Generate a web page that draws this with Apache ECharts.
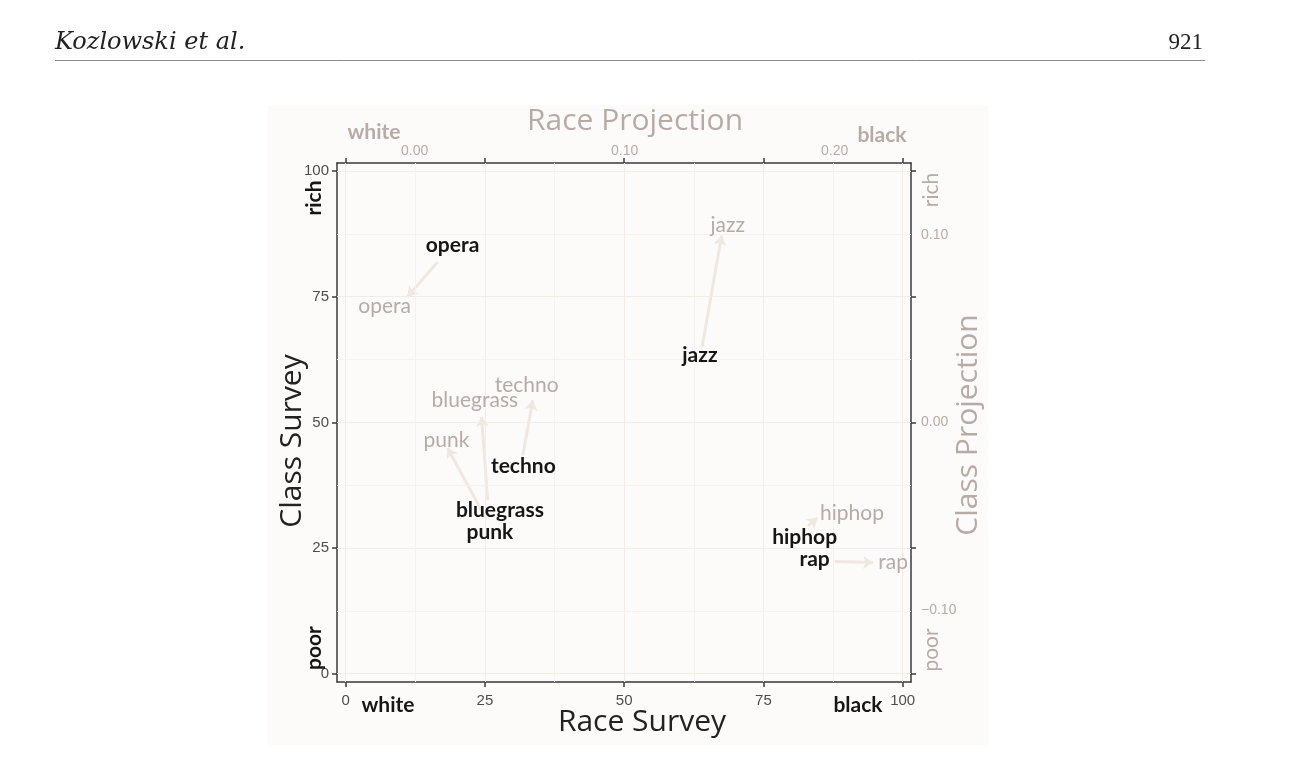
<!DOCTYPE html>
<html><head><meta charset="utf-8">
<script src="https://cdn.jsdelivr.net/npm/echarts@6/dist/echarts.min.js"></script>
<style>html,body{margin:0;padding:0;background:#fff}#c{width:1300px;height:770px}</style>
</head><body><div id="c"></div>
<script>
// ---------------- data ----------------
const genres = ['opera', 'jazz', 'techno', 'bluegrass', 'punk', 'hiphop', 'rap'];
// survey positions (Race Survey, Class Survey)
const surveyX = [19.2, 63.6, 31.9, 27.7, 25.9, 82.4, 84.2];
const surveyY = [85.2, 63.4, 41.2, 32.6, 28.2, 27.2, 22.7];
// projection positions, read on the survey axes
const projX = [7.0, 68.6, 32.5, 23.2, 18.1, 90.9, 98.3];
const projY = [73.1, 89.2, 57.4, 54.4, 46.5, 32.0, 22.1];
// arrows from survey to projection (start / end, survey axes)
const arrowX0 = [16.5, 64.0, 31.8, 25.5, 25.3, 83.0, 87.8];
const arrowY0 = [81.9, 65.0, 43.4, 34.6, 30.6, 29.4, 22.3];
const arrowX1 = [11.1, 67.5, 33.6, 24.4, 18.3, 84.7, 94.7];
const arrowY1 = [75.0, 87.2, 54.4, 51.1, 44.9, 31.0, 22.1];
// tick labels
const surveyTicks = [0, 25, 50, 75, 100];
const majorGrid = [0, 25, 50, 75, 100];
const minorGrid = [12.5, 37.5, 62.5, 87.5];
const raceProjTicks = [0, 0.1, 0.2];
const classProjTicks = [-0.1, 0, 0.1];

// ---------------- axis geometry ----------------
const xMin = -1.55, xMax = 101.5, yMin = -1.65, yMax = 101.6;
// projection scale: survey = origin + slope * projection
const raceOrigin = 12.4, raceSlope = 377;
const classOrigin = 50, classSlope = 373;
const toRace = s => (s - raceOrigin) / raceSlope;
const toClass = s => (s - classOrigin) / classSlope;

const dark = '#3a3a3a', greyTxt = '#b7aba7', tickTxt = '#4d4d4d', black = '#161616';
const fmtProj = v => (Math.abs(v) < 1e-9 ? '0.00' : v.toFixed(2)).replace('-', '\u2212');

const axisLine = {show: true, onZero: false, lineStyle: {color: dark, width: 1.5}};
const axisTickBase = {show: true, length: 5, lineStyle: {color: dark, width: 1.5}};

const chart = echarts.init(document.getElementById('c'), null, {renderer: 'canvas'});

function txt(text, x, y, opt) {
  return Object.assign({
    type: 'text', x: x, y: y, z: 10,
    style: Object.assign({
      text: text, x: 0, y: 0, align: 'center', verticalAlign: 'middle',
      textAlign: 'center', textVerticalAlign: 'middle'
    }, opt.style)
  }, opt.el || {});
}
const R = Math.PI / 2;

function textSeries(name, xs, ys, fill, font, z) {
  return {
    type: 'custom', name: name, z: z, silent: true,
    encode: {x: 0, y: 1},
    data: genres.map((g, i) => [xs[i], ys[i]]),
    renderItem: function (params, api) {
      const p = api.coord([api.value(0), api.value(1)]);
      return {
        type: 'text', x: p[0], y: p[1], z2: 10,
        style: {text: genres[params.dataIndex], fill: fill, font: font,
          align: 'center', verticalAlign: 'middle', textAlign: 'center', textVerticalAlign: 'middle'}
      };
    }
  };
}

const option = {
  animation: false,
  grid: {left: 337, right: 389, top: 163, bottom: 88},
  xAxis: [
    {
      type: 'value', position: 'bottom', min: xMin, max: xMax,
      axisLine: axisLine,
      axisTick: Object.assign({customValues: surveyTicks}, axisTickBase),
      axisLabel: {customValues: surveyTicks, margin: 11, color: tickTxt, fontSize: 15, fontFamily: 'Liberation Sans'},
      splitLine: {show: false}
    },
    {
      type: 'value', position: 'top', min: toRace(xMin), max: toRace(xMax),
      axisLine: axisLine,
      axisTick: Object.assign({customValues: surveyTicks.map(toRace)}, axisTickBase),
      axisLabel: {customValues: raceProjTicks, formatter: fmtProj, margin: 5, color: greyTxt, fontSize: 14, fontFamily: 'Liberation Sans'},
      splitLine: {show: false}
    }
  ],
  yAxis: [
    {
      type: 'value', position: 'left', min: yMin, max: yMax,
      axisLine: axisLine,
      axisTick: Object.assign({customValues: surveyTicks}, axisTickBase),
      axisLabel: {customValues: surveyTicks, margin: 8, color: tickTxt, fontSize: 15, fontFamily: 'Liberation Sans'},
      splitLine: {show: false}
    },
    {
      type: 'value', position: 'right', min: toClass(yMin), max: toClass(yMax),
      axisLine: axisLine,
      axisTick: Object.assign({customValues: surveyTicks.map(toClass)}, axisTickBase),
      axisLabel: {customValues: classProjTicks, formatter: fmtProj, margin: 10, color: greyTxt, fontSize: 14, fontFamily: 'Liberation Sans'},
      splitLine: {show: false}
    }
  ],
  series: [
    {
      type: 'scatter', name: 'grid', data: [], z: 1, silent: true,
      markLine: {
        silent: true, symbol: ['none', 'none'], label: {show: false}, animation: false,
        lineStyle: {type: 'solid', width: 1, color: '#f3ebe6'},
        data: []
          .concat(majorGrid.map(v => ({xAxis: v, lineStyle: {color: '#f3ebe6', type: 'solid', width: 1}})))
          .concat(majorGrid.map(v => ({yAxis: v, lineStyle: {color: '#f3ebe6', type: 'solid', width: 1}})))
          .concat(minorGrid.map(v => ({xAxis: v, lineStyle: {color: '#f7f1ed', type: 'solid', width: 1}})))
          .concat(minorGrid.map(v => ({yAxis: v, lineStyle: {color: '#f7f1ed', type: 'solid', width: 1}})))
      }
    },
    {
      type: 'lines', name: 'arrows', coordinateSystem: 'cartesian2d', z: 2, silent: true,
      symbol: ['none', 'arrow'], symbolSize: 10,
      lineStyle: {color: '#efe8e1', width: 3, opacity: 1},
      data: genres.map((g, i) => ({name: g, coords: [[arrowX0[i], arrowY0[i]], [arrowX1[i], arrowY1[i]]]}))
    },
    textSeries('projection', projX, projY, greyTxt, '21px Lato', 8),
    textSeries('survey', surveyX, surveyY, black, 'bold 21px Lato', 9)
  ],
  graphic: [
    {type: 'rect', z: -10, shape: {x: 268, y: 105, width: 720, height: 640}, style: {fill: '#fdfbfa'}},
    {type: 'line', z: 10, shape: {x1: 55, y1: 60.5, x2: 1205, y2: 60.5}, style: {stroke: '#8a8a8a', lineWidth: 1}},
    txt('Kozlowski et al.', 55, 43, {style: {align: 'left', textAlign: 'left', font: 'italic 24px "DejaVu Serif"', fill: '#222'}}),
    txt('921', 1203, 43, {style: {align: 'right', textAlign: 'right', font: '23px "Liberation Serif"', fill: '#222'}}),
    // axis titles
    txt('Race Survey', 642, 722, {style: {font: '30px "Open Sans"', fill: '#222'}}),
    txt('Race Projection', 635, 121, {style: {font: '30px "Open Sans"', fill: greyTxt}}),
    txt('Class Survey', 292, 441, {el: {rotation: R}, style: {font: '30px "Open Sans"', fill: '#222'}}),
    txt('Class Projection', 968, 425, {el: {rotation: R}, style: {font: '30px "Open Sans"', fill: greyTxt}}),
    // pole annotations
    txt('white', 388, 705, {style: {font: 'bold 21px Lato', fill: black}}),
    txt('black', 858, 705, {style: {font: 'bold 21px Lato', fill: black}}),
    txt('white', 374, 132, {style: {font: 'bold 21px Lato', fill: greyTxt}}),
    txt('black', 882, 135, {style: {font: 'bold 21px Lato', fill: greyTxt}}),
    txt('rich', 314, 198, {el: {rotation: R}, style: {font: 'bold 21px Lato', fill: black}}),
    txt('poor', 314, 648, {el: {rotation: R}, style: {font: 'bold 21px Lato', fill: black}}),
    txt('rich', 931, 190, {el: {rotation: R}, style: {font: '21px Lato', fill: greyTxt}}),
    txt('poor', 931, 650, {el: {rotation: R}, style: {font: '21px Lato', fill: greyTxt}})
  ]
};
chart.setOption(option);
</script>
</body></html>
